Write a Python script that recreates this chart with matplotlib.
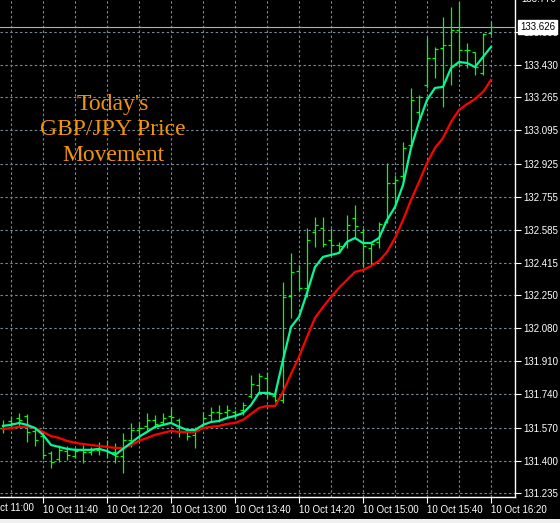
import numpy as np
import matplotlib.pyplot as plt
from matplotlib.patches import Rectangle

# GBPJPY M5 bars, 10 Oct 11:15 .. 16:20
bar_open = [131.568, 131.604, 131.620, 131.630, 131.553, 131.527, 131.440, 131.409, 131.450, 131.425,
            131.456, 131.445, 131.456, 131.476, 131.445, 131.425, 131.507, 131.558, 131.579, 131.610,
            131.599, 131.630, 131.610, 131.548, 131.533, 131.579, 131.635, 131.650, 131.650, 131.650,
            131.661, 131.733, 131.789, 131.825, 131.733, 131.712, 132.246, 132.374, 132.287, 132.574,
            132.594, 132.533, 132.507, 132.517, 132.646, 132.574, 132.492, 132.523, 132.625, 132.825,
            132.861, 133.020, 133.189, 133.328, 133.466, 133.518, 133.533, 133.610, 133.508, 133.497,
            133.390, 133.595]
bar_high = [131.610, 131.630, 131.645, 131.640, 131.568, 131.548, 131.450, 131.481, 131.476, 131.466,
            131.481, 131.471, 131.497, 131.507, 131.492, 131.543, 131.594, 131.599, 131.645, 131.635,
            131.645, 131.671, 131.620, 131.558, 131.574, 131.650, 131.676, 131.686, 131.686, 131.661,
            131.702, 131.840, 131.850, 131.856, 131.748, 132.317, 132.466, 132.405, 132.594, 132.651,
            132.651, 132.594, 132.523, 132.661, 132.712, 132.594, 132.517, 132.625, 132.928, 132.866,
            133.036, 133.313, 133.277, 133.574, 133.523, 133.677, 133.728, 133.754, 133.543, 133.497,
            133.595, 133.651]
bar_low = [131.543, 131.568, 131.574, 131.497, 131.476, 131.409, 131.363, 131.394, 131.404, 131.414,
           131.389, 131.430, 131.430, 131.414, 131.389, 131.338, 131.471, 131.507, 131.548, 131.568,
           131.584, 131.594, 131.523, 131.507, 131.466, 131.584, 131.599, 131.599, 131.620, 131.615,
           131.635, 131.722, 131.748, 131.722, 131.702, 131.697, 132.133, 132.276, 132.240, 132.497,
           132.497, 132.456, 132.466, 132.492, 132.548, 132.394, 132.405, 132.492, 132.620, 132.702,
           132.830, 133.005, 133.148, 133.313, 133.364, 133.215, 133.328, 133.420, 133.415, 133.379,
           133.379, 133.584]
bar_close = [131.584, 131.594, 131.610, 131.548, 131.507, 131.430, 131.394, 131.456, 131.430, 131.450,
             131.445, 131.456, 131.476, 131.445, 131.425, 131.507, 131.558, 131.568, 131.610, 131.589,
             131.620, 131.625, 131.553, 131.527, 131.558, 131.620, 131.650, 131.645, 131.661, 131.640,
             131.686, 131.794, 131.835, 131.753, 131.712, 132.240, 132.369, 132.287, 132.533, 132.610,
             132.512, 132.507, 132.502, 132.610, 132.605, 132.502, 132.512, 132.615, 132.825, 132.841,
             133.005, 133.251, 133.266, 133.466, 133.513, 133.533, 133.610, 133.508, 133.508, 133.420,
             133.590, 133.626]

# moving averages as drawn on the chart
ma_fast = [131.579, 131.584, 131.594, 131.584, 131.568, 131.533, 131.481, 131.471, 131.461, 131.456,
           131.456, 131.456, 131.461, 131.450, 131.430, 131.461, 131.492, 131.523, 131.548, 131.574,
           131.584, 131.594, 131.574, 131.558, 131.558, 131.584, 131.599, 131.604, 131.620, 131.630,
           131.645, 131.686, 131.748, 131.748, 131.738, 131.917, 132.086, 132.138, 132.261, 132.394,
           132.446, 132.456, 132.466, 132.523, 132.543, 132.517, 132.517, 132.543, 132.635, 132.702,
           132.815, 133.005, 133.138, 133.251, 133.313, 133.318, 133.415, 133.446, 133.441, 133.420,
           133.472, 133.523]
ma_slow = [131.563, 131.568, 131.574, 131.574, 131.568, 131.548, 131.527, 131.517, 131.502, 131.492,
           131.486, 131.481, 131.476, 131.471, 131.466, 131.466, 131.481, 131.502, 131.517, 131.533,
           131.543, 131.553, 131.548, 131.548, 131.548, 131.568, 131.574, 131.579, 131.589, 131.594,
           131.610, 131.640, 131.671, 131.681, 131.681, 131.753, 131.845, 131.933, 132.035, 132.133,
           132.189, 132.240, 132.287, 132.328, 132.369, 132.379, 132.399, 132.425, 132.471, 132.543,
           132.635, 132.738, 132.830, 132.928, 133.005, 133.056, 133.138, 133.200, 133.230, 133.256,
           133.292, 133.354]

last_price = 133.626
price_ticks = [131.235, 131.400, 131.570, 131.740, 131.910, 132.080, 132.250, 132.415,
               132.585, 132.755, 132.925, 133.095, 133.265, 133.430, 133.600]
time_ticks = [700, 740, 780, 820, 860, 900, 940, 980]  # minutes since midnight
time_labels = ["10 Oct 11:40", "10 Oct 12:20", "10 Oct 13:00", "10 Oct 13:40",
               "10 Oct 14:20", "10 Oct 15:00", "10 Oct 15:40", "10 Oct 16:20"]

minutes = np.arange(675, 675 + 5 * len(bar_close), 5)

GRID = "#778899"
FONT = "Liberation Sans"

fig = plt.figure(figsize=(5.6, 5.23), dpi=100, facecolor="black")
ax = fig.add_axes([0, 26 / 523, 515 / 560, 497 / 523], facecolor="black")

# OHLC bars
hw = 1.875
ax.vlines(minutes, bar_low, bar_high, color="#00ff00", lw=0.9, zorder=3)
ax.hlines(bar_open, minutes - hw, minutes, color="#00ff00", lw=0.9, zorder=3)
ax.hlines(bar_close, minutes, minutes + hw, color="#00ff00", lw=0.9, zorder=3)

ax.plot(minutes, ma_slow, color="#ff0000", lw=1.6, zorder=4)
ax.plot(minutes, ma_fast, color="#00fa9a", lw=1.6, zorder=5)

ax.axhline(last_price, color="#a9b0c0", lw=0.8, zorder=2)

ax.set_xlim(673.125, 995)
ax.set_ylim(131.214, 133.764)

ax.set_yticks(price_ticks)
ax.yaxis.tick_right()
ax.set_xticks(time_ticks)
ax.set_xticklabels(time_labels)
ax.set_xticks(np.arange(680, 995, 20), minor=True)
ax.tick_params(axis="x", which="minor", length=0)
ax.tick_params(axis="both", which="major", colors="white", length=4, width=0.8,
               direction="out", labelsize=7, pad=2)
for lab in ax.get_xticklabels():
    lab.set_ha("left")
    lab.set_fontfamily(FONT)
for lab in ax.get_yticklabels():
    lab.set_fontfamily(FONT)

ax.grid(True, which="both", axis="x", color=GRID, lw=0.8, linestyle=(0, (2.2, 2.2)))
ax.grid(True, which="major", axis="y", color=GRID, lw=0.8, linestyle=(0, (2.2, 2.2)))
ax.set_axisbelow(True)

for side in ["left", "top"]:
    ax.spines[side].set_visible(False)
for side in ["right", "bottom"]:
    ax.spines[side].set_color("white")
    ax.spines[side].set_linewidth(1.0)

# labels cut off by the window edges
ax.text(660, -0.012, "10 Oct 11:00", transform=ax.get_xaxis_transform(),
        color="white", fontsize=7, family=FONT, ha="left", va="top", clip_on=False)
ax.text(1 + 6 / 515, 133.770, "133.770", transform=ax.get_yaxis_transform(),
        color="white", fontsize=7, family=FONT, ha="left", va="center", clip_on=False)

# current price marker
ax.text(1 + 5 / 515, last_price, "133.626", transform=ax.get_yaxis_transform(),
        color="black", fontsize=7, family=FONT, ha="left", va="center", zorder=10,
        bbox=dict(boxstyle="square,pad=0.2", fc="white", ec="white"), clip_on=False)

ax.text(113 / 515, 133.097, "Today's\nGBP/JPY Price\nMovement", color="#f0950a",
        fontsize=17, family="Liberation Serif", ha="center", va="center",
        linespacing=1.28, transform=ax.get_yaxis_transform())

# window border strip at the bottom
fig.patches.append(Rectangle((0, 0), 1, 4 / 523, transform=fig.transFigure,
                             facecolor="#f0f0f0", edgecolor="none"))

fig.savefig("out.png", dpi=100, facecolor="black")
